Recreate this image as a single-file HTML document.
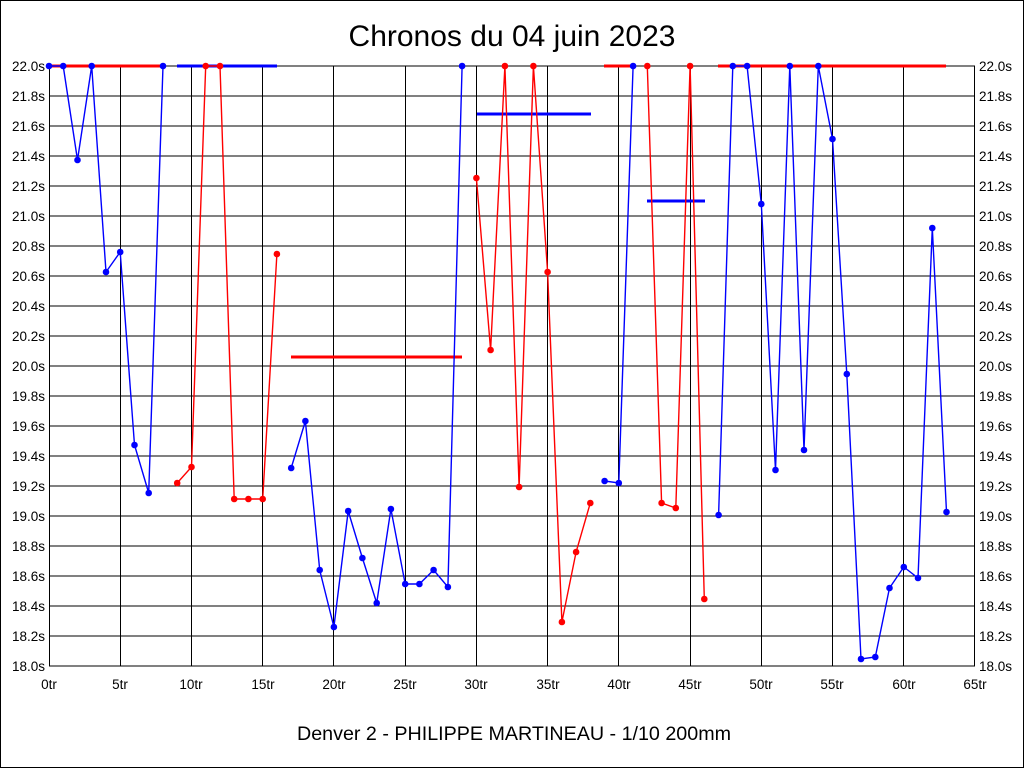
<!DOCTYPE html>
<html><head><meta charset="utf-8"><style>body{margin:0;background:#fff}svg{display:block}</style></head>
<body>
<svg width="1024" height="768" xmlns="http://www.w3.org/2000/svg" font-family="Liberation Sans, sans-serif">
<defs>
<marker id="mb" markerUnits="userSpaceOnUse" markerWidth="8" markerHeight="8" refX="4" refY="4"><circle cx="4" cy="4" r="3.3" fill="blue"/></marker>
<marker id="mr" markerUnits="userSpaceOnUse" markerWidth="8" markerHeight="8" refX="4" refY="4"><circle cx="4" cy="4" r="3.3" fill="red"/></marker>
</defs>
<rect x="0.5" y="0.5" width="1023" height="767" fill="#fff" stroke="#000"/>
<text x="512" y="46" font-size="30" text-anchor="middle">Chronos du 04 juin 2023</text>
<text x="514" y="740" font-size="19.7" text-anchor="middle">Denver 2 - PHILIPPE MARTINEAU - 1/10 200mm</text>
<path stroke="#000" stroke-width="1" fill="none" d="M49 66H975M49 96H975M49 126H975M49 156H975M49 186H975M49 216H975M49 246H975M49 276H975M49 306H975M49 336H975M49 366H975M49 396H975M49 426H975M49 456H975M49 486H975M49 516H975M49 546H975M49 576H975M49 606H975M49 636H975M49 666H975
M49.5 66V666M120.5 66V666M191.5 66V666M262.5 66V666M333.5 66V666M405.5 66V666M476.5 66V666M547.5 66V666M618.5 66V666M690.5 66V666M761.5 66V666M832.5 66V666M903.5 66V666M974.5 66V666"/>
<g font-size="13.5" text-anchor="end">
<text x="45" y="71">22.0s</text><text x="45" y="101">21.8s</text><text x="45" y="131">21.6s</text><text x="45" y="161">21.4s</text><text x="45" y="191">21.2s</text><text x="45" y="221">21.0s</text><text x="45" y="251">20.8s</text><text x="45" y="281">20.6s</text><text x="45" y="311">20.4s</text><text x="45" y="341">20.2s</text><text x="45" y="371">20.0s</text><text x="45" y="401">19.8s</text><text x="45" y="431">19.6s</text><text x="45" y="461">19.4s</text><text x="45" y="491">19.2s</text><text x="45" y="521">19.0s</text><text x="45" y="551">18.8s</text><text x="45" y="581">18.6s</text><text x="45" y="611">18.4s</text><text x="45" y="641">18.2s</text><text x="45" y="671">18.0s</text>
</g>
<g font-size="13.5">
<text x="979" y="71">22.0s</text><text x="979" y="101">21.8s</text><text x="979" y="131">21.6s</text><text x="979" y="161">21.4s</text><text x="979" y="191">21.2s</text><text x="979" y="221">21.0s</text><text x="979" y="251">20.8s</text><text x="979" y="281">20.6s</text><text x="979" y="311">20.4s</text><text x="979" y="341">20.2s</text><text x="979" y="371">20.0s</text><text x="979" y="401">19.8s</text><text x="979" y="431">19.6s</text><text x="979" y="461">19.4s</text><text x="979" y="491">19.2s</text><text x="979" y="521">19.0s</text><text x="979" y="551">18.8s</text><text x="979" y="581">18.6s</text><text x="979" y="611">18.4s</text><text x="979" y="641">18.2s</text><text x="979" y="671">18.0s</text>
</g>
<g font-size="13.5" text-anchor="middle">
<text x="49" y="689">0tr</text><text x="120" y="689">5tr</text><text x="191" y="689">10tr</text><text x="263" y="689">15tr</text><text x="334" y="689">20tr</text><text x="405" y="689">25tr</text><text x="476" y="689">30tr</text><text x="548" y="689">35tr</text><text x="619" y="689">40tr</text><text x="690" y="689">45tr</text><text x="761" y="689">50tr</text><text x="832" y="689">55tr</text><text x="904" y="689">60tr</text><text x="975" y="689">65tr</text>
</g>
<g stroke-width="3">
<line x1="49" y1="66" x2="164" y2="66" stroke="red"/>
<line x1="177" y1="66" x2="277" y2="66" stroke="blue"/>
<line x1="291" y1="357" x2="462" y2="357" stroke="red"/>
<line x1="477" y1="114" x2="591" y2="114" stroke="blue"/>
<line x1="604" y1="66" x2="632" y2="66" stroke="red"/>
<line x1="647" y1="201" x2="705" y2="201" stroke="blue"/>
<line x1="718" y1="66" x2="946" y2="66" stroke="red"/>
</g>
<g fill="none" stroke-width="1.4">
<polyline stroke="blue" marker-start="url(#mb)" marker-mid="url(#mb)" marker-end="url(#mb)" points="49,66 63.2,66 77.5,160 91.7,66 106,272 120.2,252 134.5,445 148.7,493 163,66"/>
<polyline stroke="red" marker-start="url(#mr)" marker-mid="url(#mr)" marker-end="url(#mr)" points="177.2,483 191.5,467 205.7,66 220,66 234.2,499 248.4,499 262.7,499 276.9,254"/>
<polyline stroke="blue" marker-start="url(#mb)" marker-mid="url(#mb)" marker-end="url(#mb)" points="291.2,468 305.4,421 319.7,570 333.9,627 348.2,511 362.4,558 376.7,603 390.9,509 405.2,584 419.4,584 433.6,570 447.9,587 462.1,66"/>
<polyline stroke="red" marker-start="url(#mr)" marker-mid="url(#mr)" marker-end="url(#mr)" points="476.4,178 490.6,350 504.9,66 519.1,487 533.4,66 547.6,272 561.9,622 576.1,552 590.3,503"/>
<polyline stroke="blue" marker-start="url(#mb)" marker-mid="url(#mb)" marker-end="url(#mb)" points="604.6,481 618.8,483 633.1,66"/>
<polyline stroke="red" marker-start="url(#mr)" marker-mid="url(#mr)" marker-end="url(#mr)" points="647.3,66 661.6,503 675.8,508 690.1,66 704.3,599"/>
<polyline stroke="blue" marker-start="url(#mb)" marker-mid="url(#mb)" marker-end="url(#mb)" points="718.6,515 732.8,66 747.1,66 761.3,204 775.5,470 789.8,66 804,450 818.3,66 832.5,139 846.8,374 861,659 875.3,657 889.5,588 903.8,567 918,578 932.3,228 946.5,512"/>
</g>
</svg>
</body></html>
